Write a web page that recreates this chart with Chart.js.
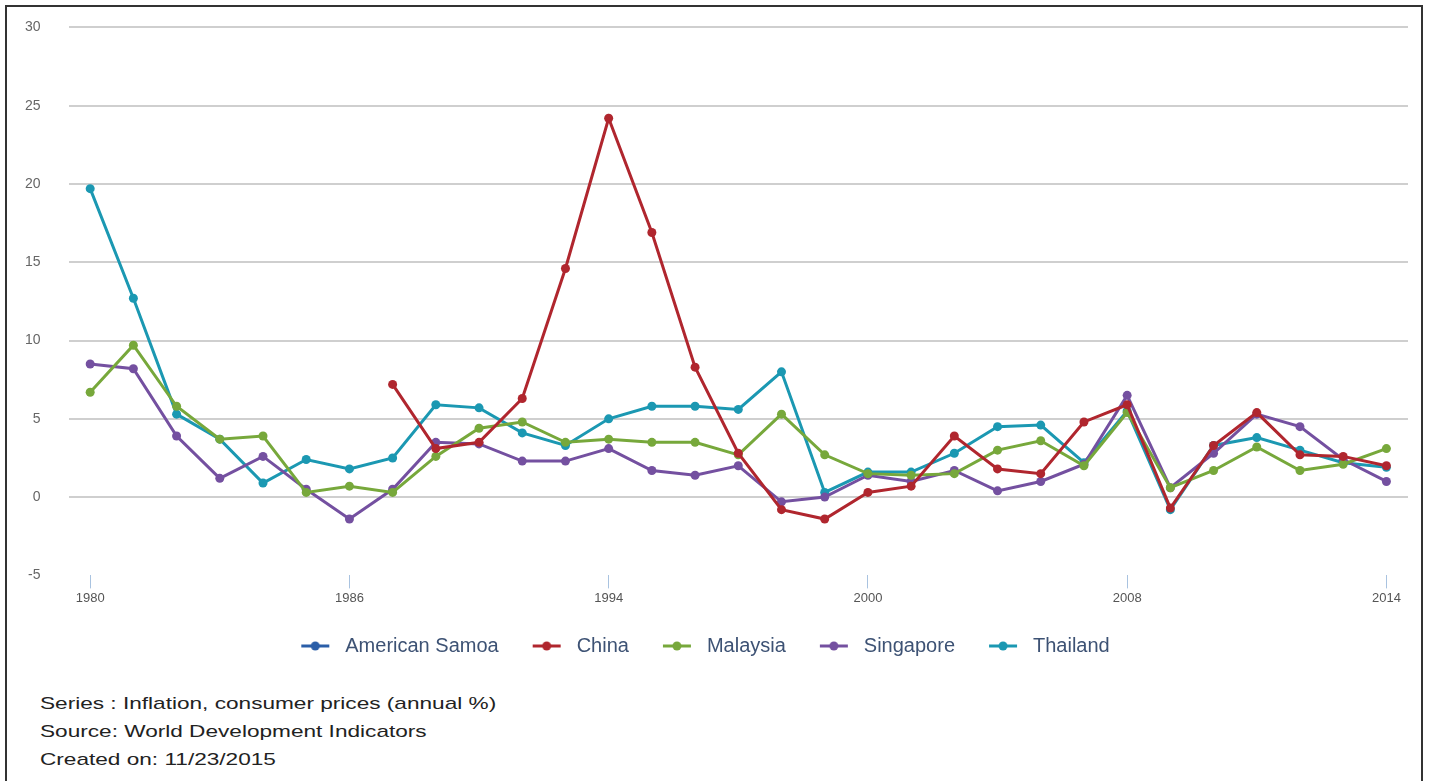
<!DOCTYPE html>
<html>
<head>
<meta charset="utf-8">
<script src="https://cdn.jsdelivr.net/npm/chart.js@4.4.1/dist/chart.umd.min.js"></script>
<style>
  html, body { margin: 0; padding: 0; background: #fff; }
  body { width: 1429px; height: 781px; position: relative; overflow: hidden; font-family: "Liberation Sans", Arial, sans-serif; }
  .frame { position: absolute; left: 5px; top: 5px; width: 1418px; height: 800px; border: 2px solid #333; box-sizing: border-box; }
  .chart-wrap { position: absolute; left: -3px; top: -9px; width: 1429px; height: 682px; }
  .notes { position: absolute; left: 40px; top: 690px; font-size: 17px; color: #222; line-height: 28px;
           transform: scaleX(1.33); transform-origin: left top; white-space: nowrap; }
</style>
</head>
<body>
<div class="frame"></div>
<div class="chart-wrap"><canvas id="inflation-chart"></canvas></div>
<div class="notes">
  <div>Series : Inflation, consumer prices (annual %)</div>
  <div>Source: World Development Indicators</div>
  <div>Created on: 11/23/2015</div>
</div>
<script>
// years on the axis (1988-89 and 2002-03 are missing in the source chart)
const years = ['1980', '1981', '1982', '1983', '1984', '1985', '1986', '1987',
    '1990', '1991', '1992', '1993', '1994', '1995', '1996', '1997', '1998', '1999', '2000', '2001',
    '2004', '2005', '2006', '2007', '2008', '2009', '2010', '2011', '2012', '2013', '2014'];
const shownYears = ['1980', '1986', '1994', '2000', '2008', '2014'];
const yTicks = [-5, 0, 5, 10, 15, 20, 25, 30];

const americanSamoa = years.map(() => null); // no data in the chart
const china = [null, null, null, null, null, null, null, 7.2,
    3.1, 3.5, 6.3, 14.6, 24.2, 16.9, 8.3, 2.8, -0.8, -1.4, 0.3, 0.7,
    3.9, 1.8, 1.5, 4.8, 5.9, -0.7, 3.3, 5.4, 2.7, 2.6, 2.0];
const malaysia = [6.7, 9.7, 5.8, 3.7, 3.9, 0.3, 0.7, 0.3,
    2.6, 4.4, 4.8, 3.5, 3.7, 3.5, 3.5, 2.7, 5.3, 2.7, 1.5, 1.4,
    1.5, 3.0, 3.6, 2.0, 5.4, 0.6, 1.7, 3.2, 1.7, 2.1, 3.1];
const singapore = [8.5, 8.2, 3.9, 1.2, 2.6, 0.5, -1.4, 0.5,
    3.5, 3.4, 2.3, 2.3, 3.1, 1.7, 1.4, 2.0, -0.3, 0.0, 1.4, 1.0,
    1.7, 0.4, 1.0, 2.1, 6.5, 0.6, 2.8, 5.3, 4.5, 2.4, 1.0];
const thailand = [19.7, 12.7, 5.3, 3.7, 0.9, 2.4, 1.8, 2.5,
    5.9, 5.7, 4.1, 3.3, 5.0, 5.8, 5.8, 5.6, 8.0, 0.3, 1.6, 1.6,
    2.8, 4.5, 4.6, 2.2, 5.5, -0.8, 3.3, 3.8, 3.0, 2.2, 1.9];

const colors = {
    samoa: '#2a5ea8',
    china: '#b0262e',
    malaysia: '#77a83b',
    singapore: '#7450a0',
    thailand: '#1b98b2'
};

// little line-with-dot marker for the legend
function legendMarker(color) {
    const c = document.createElement('canvas');
    c.width = 30;
    c.height = 10;
    const g = c.getContext('2d');
    g.strokeStyle = color;
    g.lineWidth = 3;
    g.beginPath();
    g.moveTo(1, 5);
    g.lineTo(29, 5);
    g.stroke();
    g.fillStyle = color;
    g.beginPath();
    g.arc(15, 5, 4.5, 0, Math.PI * 2);
    g.fill();
    return c;
}

function series(label, data, color) {
    return {
        label: label,
        data: data,
        borderColor: color,
        backgroundColor: color,
        borderWidth: 3,
        pointRadius: 4.5,
        pointHoverRadius: 5,
        pointBorderWidth: 0,
        fill: false,
        tension: 0,
        spanGaps: false
    };
}

const ctx = document.getElementById('inflation-chart');

new Chart(ctx, {
    type: 'line',
    data: {
        labels: years,
        datasets: [
            series('American Samoa', americanSamoa, colors.samoa),
            series('China', china, colors.china),
            series('Malaysia', malaysia, colors.malaysia),
            series('Singapore', singapore, colors.singapore),
            series('Thailand', thailand, colors.thailand)
        ]
    },
    options: {
        responsive: true,
        maintainAspectRatio: false,
        animation: false,
        layout: {
            padding: { top: 9, left: 0, right: 18, bottom: 7 }
        },
        plugins: {
            tooltip: { enabled: false },
            legend: {
                position: 'bottom',
                labels: {
                    usePointStyle: true,
                    pointStyleWidth: 40,
                    padding: 28,
                    color: '#3d5274',
                    font: { size: 20, family: '"Liberation Sans", Arial, sans-serif' },
                    generateLabels: function (chart) {
                        const items = Chart.defaults.plugins.legend.labels.generateLabels(chart);
                        items.forEach(function (item) {
                            item.pointStyle = legendMarker(chart.data.datasets[item.datasetIndex].borderColor);
                        });
                        return items;
                    }
                }
            }
        },
        scales: {
            x: {
                offset: true,
                border: { display: false },
                grid: {
                    drawOnChartArea: false,
                    drawTicks: true,
                    tickLength: 13,
                    tickWidth: 1,
                    tickColor: function (c) {
                        return shownYears.includes(years[c.index]) ? '#a9c3e0' : 'rgba(0,0,0,0)';
                    }
                },
                ticks: {
                    autoSkip: false,
                    maxRotation: 0,
                    padding: 2,
                    color: '#555',
                    font: { size: 13, family: '"Liberation Sans", Arial, sans-serif' },
                    callback: function (value, index) {
                        return shownYears.includes(years[index]) ? years[index] : '';
                    }
                }
            },
            y: {
                min: yTicks[0],
                max: yTicks[yTicks.length - 1],
                afterBuildTicks: function (axis) {
                    axis.ticks = yTicks.map(v => ({ value: v }));
                },
                border: { display: false },
                grid: {
                    drawTicks: false,
                    lineWidth: 2,
                    color: function (c) {
                        return c.tick && c.tick.value === -5 ? 'rgba(0,0,0,0)' : '#cfcfcf';
                    }
                },
                ticks: {
                    padding: 28,
                    color: '#666',
                    font: { size: 14, family: '"Liberation Sans", Arial, sans-serif' }
                }
            }
        }
    }
});
</script>
</body>
</html>
